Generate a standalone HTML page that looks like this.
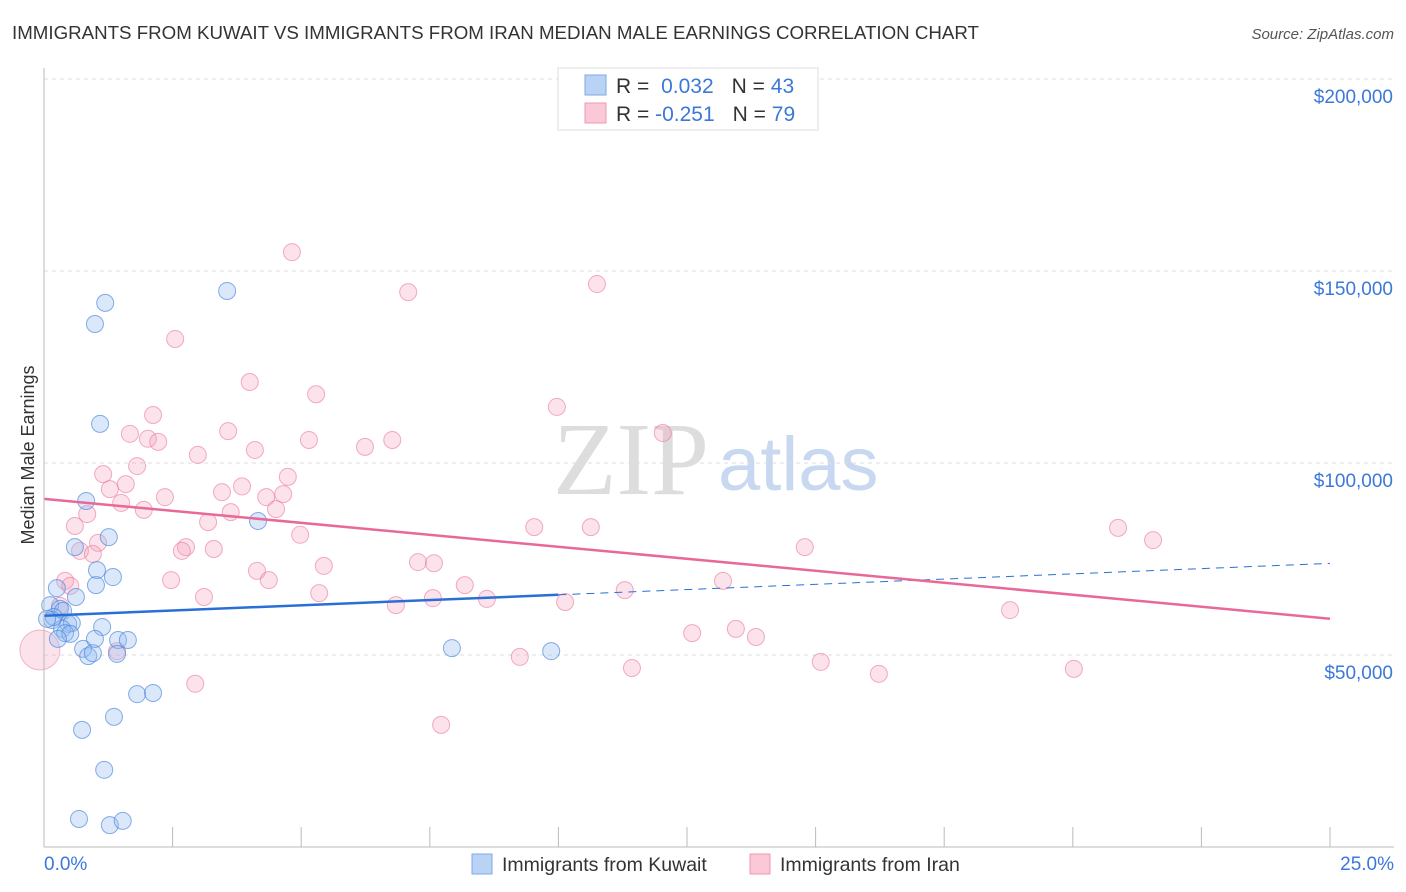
<!DOCTYPE html>
<html><head><meta charset="utf-8"><style>
body{margin:0;background:#fff;font-family:"Liberation Sans",sans-serif;}
svg{display:block}
</style></head><body>
<svg id="chart" width="1406" height="892">
<text x="12" y="39" font-size="18" fill="#333" textLength="967" lengthAdjust="spacingAndGlyphs">IMMIGRANTS FROM KUWAIT VS IMMIGRANTS FROM IRAN MEDIAN MALE EARNINGS CORRELATION CHART</text>
<text x="1394" y="39" font-size="15" fill="#555" font-style="italic" text-anchor="end">Source: ZipAtlas.com</text>
<text x="553" y="494" font-size="104" fill="#ddd" font-family="Liberation Serif,serif">ZIP</text>
<text x="718" y="490" font-size="76" fill="#c8d8f0">atlas</text>
<text transform="translate(34,455) rotate(-90)" font-size="18" fill="#333" text-anchor="middle">Median Male Earnings</text>
<g id="grid"></g><g id="pts"></g><g id="lines"></g>
<line x1="44" y1="68" x2="44" y2="847" stroke="#bbb"/>
<line x1="44" y1="847" x2="1394" y2="847" stroke="#bbb"/>
<text x="44" y="870" font-size="19" fill="#3b78d8">0.0%</text>
<text x="1394" y="870" font-size="19" fill="#3b78d8" text-anchor="end">25.0%</text>
<g>
<rect x="558" y="68" width="260" height="62" fill="#fff" stroke="#ddd"/>
<rect x="585" y="75" width="21" height="20" fill="#b9d3f5" stroke="#7ea8e4"/>
<rect x="585" y="103" width="21" height="20" fill="#fac8d6" stroke="#ee9ab3"/>
<text x="616" y="93" font-size="21" fill="#333">R = <tspan fill="#3b78d8" dx="6">0.032</tspan><tspan dx="18" fill="#333">N = </tspan><tspan fill="#3b78d8">43</tspan></text>
<text x="616" y="121" font-size="21" fill="#333">R = <tspan fill="#3b78d8">-0.251</tspan><tspan dx="18" fill="#333">N = </tspan><tspan fill="#3b78d8">79</tspan></text>
</g>
<g>
<rect x="472" y="854" width="20" height="20" fill="#b9d3f5" stroke="#7ea8e4"/>
<text x="502" y="871" font-size="19.5" fill="#333">Immigrants from Kuwait</text>
<rect x="750" y="854" width="20" height="20" fill="#fac8d6" stroke="#ee9ab3"/>
<text x="780" y="871" font-size="19.5" fill="#333">Immigrants from Iran</text>
</g>
</svg>
<script>
const yTicks=[50,100,150,200];
const yTickLabels=["$50,000","$100,000","$150,000","$200,000"];
const xTicks=[0,2.5,5,7.5,10,12.5,15,17.5,20,22.5,25];
const kuwaitX=[1.19,0.99,3.56,1.09,0.82,4.16,1.26,0.6,1.03,1.34,1.01,0.25,0.62,0.12,0.31,0.37,0.16,0.47,0.54,0.35,1.13,0.41,0.51,1.44,1.63,0.76,0.86,0.95,1.42,7.93,9.86,1.81,2.12,1.36,0.74,1.17,0.68,1.28,1.53,0.19,0.06,0.99,0.27];
const kuwaitY=[141.7,136.2,144.8,110.2,90.1,84.9,80.7,78.1,72.1,70.3,68.2,67.4,65.1,63,62,61.5,59.1,58.1,58.3,56.8,57.3,55.7,55.5,53.9,53.9,51.6,49.7,50.5,50.3,51.8,51,39.8,40.1,33.9,30.5,20.1,7.3,5.7,6.8,59.9,59.4,54.2,54.2];
const iranX=[4.82,10.75,7.08,2.55,4.0,5.29,2.12,9.97,3.58,1.67,2.02,2.22,12.03,5.15,6.77,6.24,4.1,2.99,1.81,1.15,4.74,1.28,1.59,3.46,3.85,2.35,4.32,4.65,1.5,1.94,3.63,4.51,0.84,3.19,0.6,9.53,10.63,20.88,21.56,4.98,1.05,2.76,14.79,3.3,0.7,2.68,0.95,7.27,7.58,5.44,4.14,4.37,2.47,0.41,0.51,8.18,13.2,11.29,5.35,3.11,7.56,8.61,10.13,6.84,18.78,0.31,12.6,13.45,13.84,1.42,9.25,15.1,11.43,20.02,16.23,2.94,7.72,-0.08];
const iranY=[154.9,146.6,144.5,132.3,121.1,117.9,112.5,114.6,108.3,107.6,106.3,105.5,107.8,106.0,106.0,104.2,103.4,102.1,99.2,97.1,96.4,93.2,94.5,92.4,93.9,91.1,91.1,91.9,89.6,87.8,87.2,88.0,86.7,84.6,83.6,83.3,83.3,83.1,79.9,81.3,79.2,78.1,78.1,77.6,77.1,77.1,76.3,74.2,73.9,73.2,71.9,69.5,69.5,69.3,68.0,68.2,69.3,66.9,66.1,65.1,64.8,64.6,63.8,63.0,61.7,62.8,55.7,56.8,54.7,51.0,49.5,48.2,46.6,46.4,45.1,42.5,31.8,51.3];
const X=v=>44+v*51.44, Y=v=>847-v*3.84;
const NS="http://www.w3.org/2000/svg";
function mk(t,a,p){const e=document.createElementNS(NS,t);for(const k in a)e.setAttribute(k,a[k]);p.appendChild(e);return e;}
const g=document.getElementById('grid');
yTicks.forEach((v,i)=>{
 const l=mk('line',{x1:44,x2:1394,y1:Y(v),y2:Y(v),stroke:'#ddd','stroke-dasharray':'4,4'},g);
 
 
 const t=mk('text',{x:1393,y:Y(v)+24,'font-size':19,fill:'#3b78d8','text-anchor':'end'},g);
 t.textContent=yTickLabels[i];
 
 
});
xTicks.forEach(v=>{
 const l=mk('line',{x1:X(v),x2:X(v),y1:827,y2:847,stroke:'#bbb'},g);
 
 
});
const p=document.getElementById('pts');
const big=mk('circle',{cx:X(iranX[77]),cy:Y(iranY[77]),r:20,fill:'rgba(244,160,188,0.3)',stroke:'rgba(234,120,155,0.5)'},p);


for(let i=0;i<iranX.length-1;i++){
 const c=mk('circle',{cx:X(iranX[i]),cy:Y(iranY[i]),r:8.5,fill:'rgba(244,160,188,0.3)',stroke:'rgba(234,120,155,0.6)'},p);
 
 
}
for(let i=0;i<kuwaitX.length;i++){
 const c=mk('circle',{cx:X(kuwaitX[i]),cy:Y(kuwaitY[i]),r:8.5,fill:'rgba(150,190,240,0.35)',stroke:'rgba(70,130,220,0.65)'},p);
 
 
}
function fit(xs,ys){const n=xs.length;let mx=0,my=0;for(let i=0;i<n;i++){mx+=xs[i];my+=ys[i];}mx/=n;my/=n;let a=0,b=0;for(let i=0;i<n;i++){a+=(xs[i]-mx)*(ys[i]-my);b+=(xs[i]-mx)**2;}const s=a/b;return x=>my+s*(x-mx);}
const L=document.getElementById('lines');
const fk=fit(kuwaitX,kuwaitY), fi=fit(iranX,iranY);
let l=mk('line',{x1:X(0),y1:Y(fk(0)),x2:X(10),y2:Y(fk(10)),stroke:'#2a6fd6','stroke-width':2.5},L);


l=mk('line',{x1:X(10),y1:Y(fk(10)),x2:X(25),y2:Y(fk(25)),stroke:'#2a6fd6','stroke-width':1,'stroke-dasharray':'8,6'},L);


l=mk('line',{x1:X(0),y1:Y(fi(0)),x2:X(25),y2:Y(fi(25)),stroke:'#e8689a','stroke-width':2.5},L);


</script>
</body></html>
